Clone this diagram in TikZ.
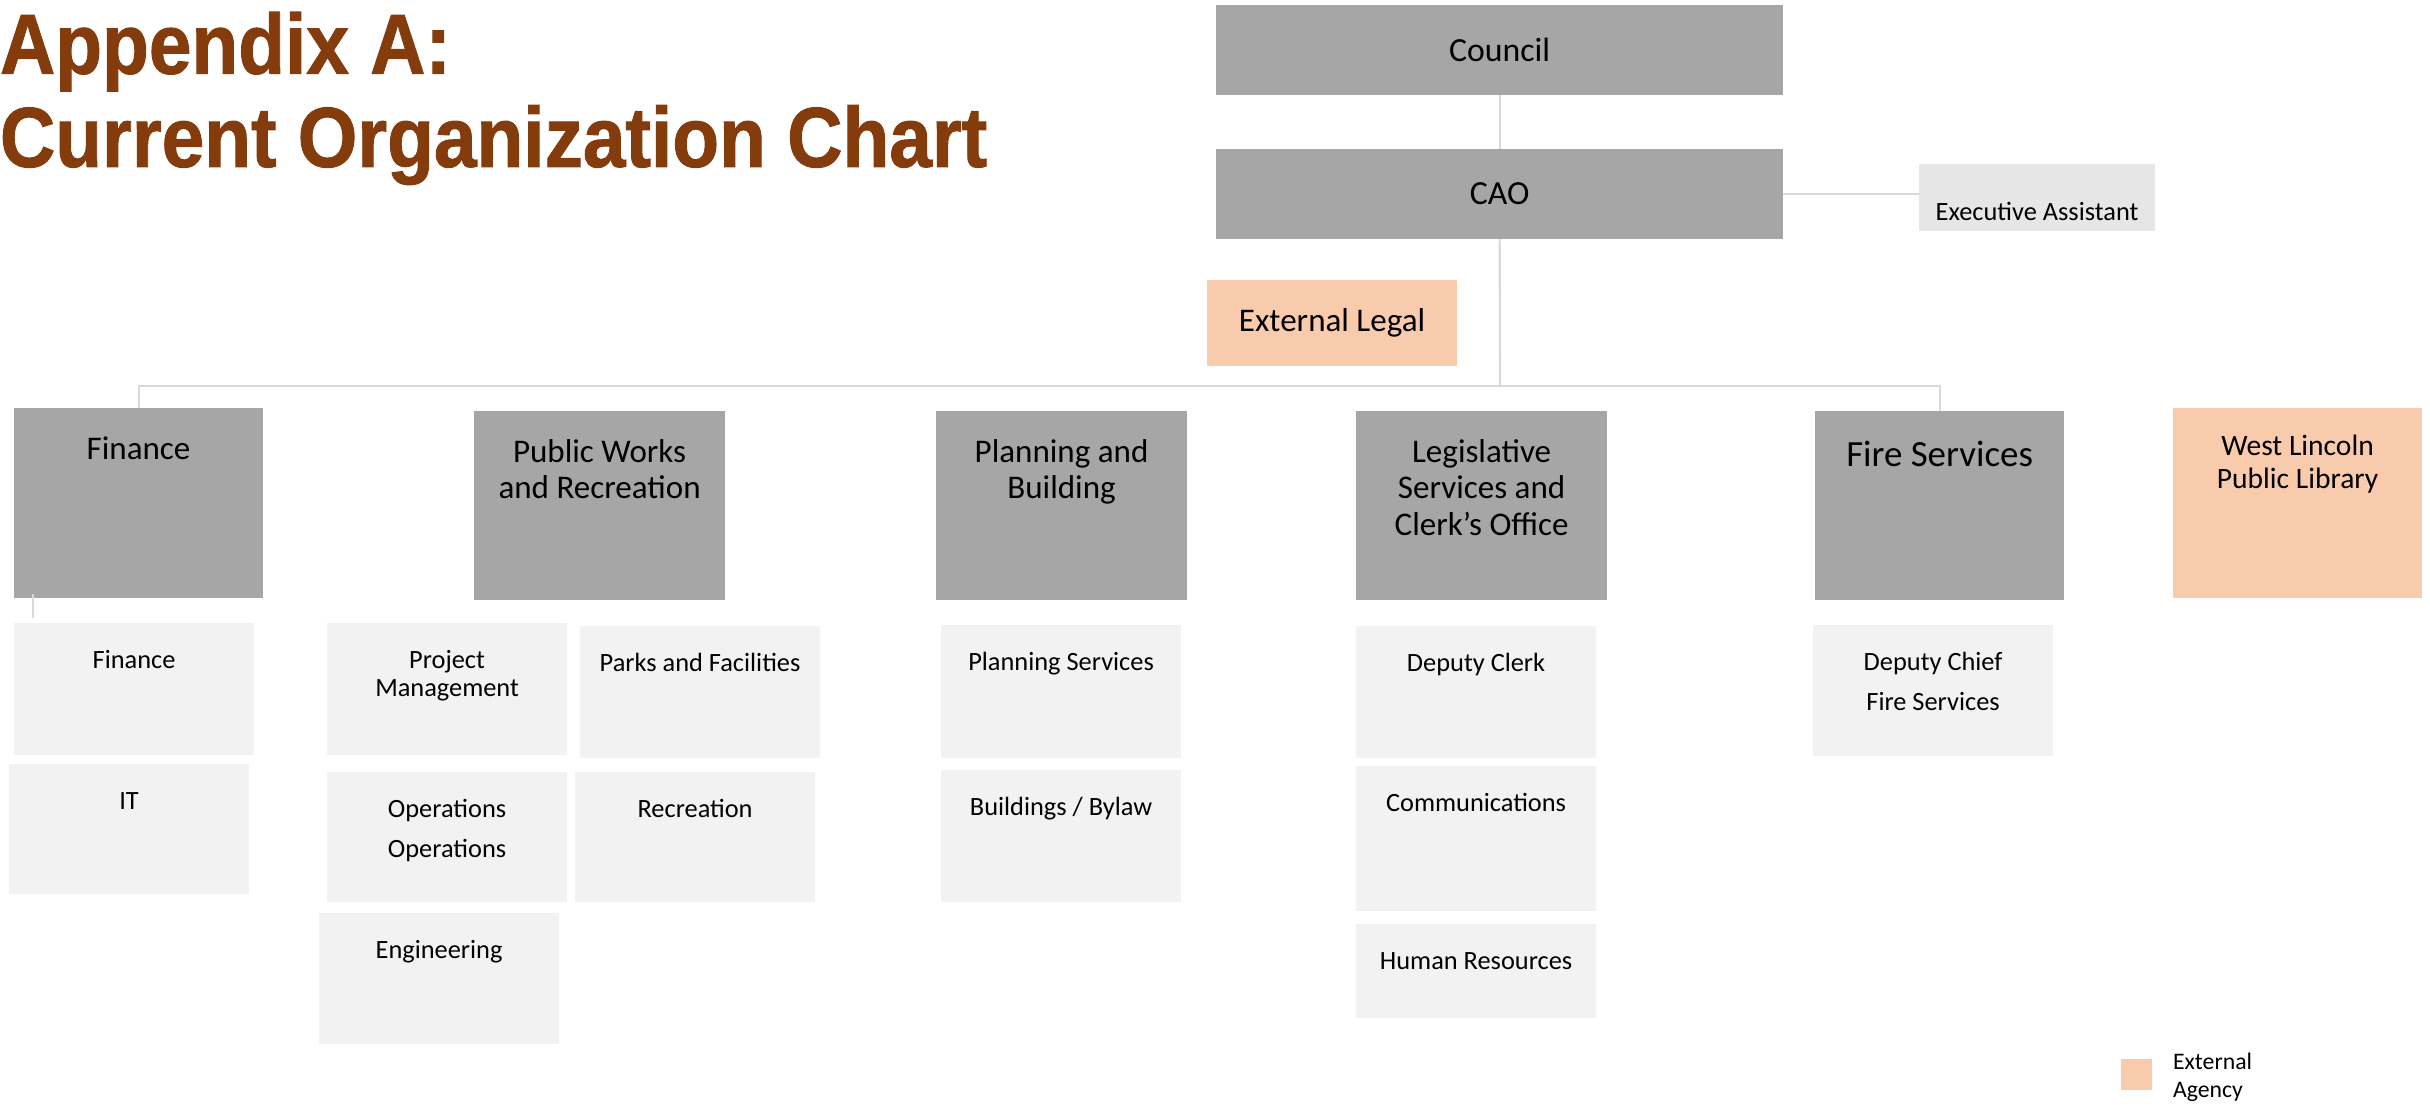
\documentclass[tikz,border=0pt]{standalone}
\usepackage{fontspec}
\setmainfont{Carlito}
\newfontfamily\titlefont{Liberation Sans Bold}[FakeBold=1.2]
\usetikzlibrary{positioning}
\definecolor{deptgray}{HTML}{A6A6A6}
\definecolor{unitgray}{HTML}{F2F2F2}
\definecolor{assistgray}{HTML}{E6E6E6}
\definecolor{peach}{HTML}{F8CBAD}
\definecolor{linegray}{HTML}{D9D9D9}
\definecolor{titlebrown}{HTML}{843C0C}
% box text set from the top: width, height, baseline, text
\newcommand{\boxtxt}[4]{\parbox[c][#2][t]{#1}{\centering\rule{0pt}{#3}#4\par}}
\newcommand{\unittxt}[2]{\boxtxt{2.4cm}{#1}{0.45cm}{#2}}

\begin{document}
\begin{tikzpicture}[
  x=0.01cm, y=-0.01cm,
  box/.style={anchor=north west,inner sep=0pt,outer sep=0pt},
  headbox/.style={box,fill=deptgray,minimum width=5.67cm,minimum height=0.9cm,font=\fontsize{9.6}{11}\selectfont},
  dept/.style={box,fill=deptgray,font=\fontsize{9.4}{10.5}\selectfont},
  unit/.style={box,fill=unitgray,font=\fontsize{7.5}{8}\selectfont},
  ext/.style={box,fill=peach},
  link/.style={draw=linegray,line width=0.6pt}
]
\useasboundingbox (0,0) rectangle (2430,1105);

\node[box,text=titlebrown,align=left,xscale=0.9,transform shape,
  font=\titlefont\fontsize{24.2}{26.5}\selectfont] (title) at (0,12)
  {Appendix A:\\Current Organization Chart};

% top of the chart
\node[headbox] (council) at (1216,5) {Council};
\node[headbox] (cao) at (1216,149) {CAO};
\node[box,fill=assistgray,font=\fontsize{7.5}{8}\selectfont] (assist) at (1919,164)
  {\boxtxt{2.36cm}{0.67cm}{0.56cm}{Executive Assistant}};
\node[ext,minimum width=2.5cm,minimum height=0.86cm,font=\fontsize{9.4}{10.5}\selectfont] (legal) at (1207,280) {External Legal};

% departments
\node[dept] (fin) at (14,408) {\boxtxt{2.49cm}{1.9cm}{0.51cm}{Finance}};
\node[dept] (pwr) at (474,411) {\boxtxt{2.51cm}{1.89cm}{0.51cm}{Public Works\\and Recreation}};
\node[dept] (plan) at (936,411) {\boxtxt{2.51cm}{1.89cm}{0.51cm}{Planning and\\Building}};
\node[dept] (leg) at (1356,411) {\boxtxt{2.51cm}{1.89cm}{0.51cm}{Legislative\\Services and\\Clerk’s Office}};
\node[dept,font=\fontsize{10.5}{12}\selectfont] (fire) at (1815,411) {\boxtxt{2.49cm}{1.89cm}{0.55cm}{Fire Services}};
\node[ext,font=\fontsize{8.4}{9.4}\selectfont] (lib) at (2173,408) {\boxtxt{2.49cm}{1.9cm}{0.47cm}{West Lincoln\\Public Library}};

% units
\node[unit] (finu) at (14,623) {\unittxt{1.32cm}{Finance}};
\node[unit] (it) at (9,764) {\unittxt{1.30cm}{IT}};
\node[unit] (pm) at (327,623) {\unittxt{1.32cm}{Project\\Management}};
\node[unit] (parks) at (580,626) {\unittxt{1.32cm}{Parks and Facilities}};
\node[unit,below=0.17cm of pm] (ops) {\unittxt{1.30cm}{Operations\\[0.12cm]Operations}};
\node[unit] (rec) at (575,772) {\unittxt{1.30cm}{Recreation}};
\node[unit] (eng) at (319,913) {\unittxt{1.31cm}{Engineering}};
\node[unit] (plans) at (941,625) {\unittxt{1.33cm}{Planning Services}};
\node[unit,below=0.12cm of plans] (build) {\unittxt{1.32cm}{Buildings / Bylaw}};
\node[unit] (dclerk) at (1356,626) {\unittxt{1.32cm}{Deputy Clerk}};
\node[unit,below=0.08cm of dclerk] (comm) {\unittxt{1.45cm}{Communications}};
\node[unit,below=0.13cm of comm] (hr) {\unittxt{0.94cm}{Human Resources}};
\node[unit] (dchief) at (1813,625) {\unittxt{1.31cm}{Deputy Chief\\[0.12cm]Fire Services}};

% legend
\node[ext,minimum width=0.31cm,minimum height=0.31cm] (legend) at (2121,1059) {};
\node[box,align=left,font=\fontsize{6.75}{8}\selectfont] (legendtxt) at ([xshift=0.21cm,yshift=0.07cm]legend.north east)
  {\rule{0pt}{0.17cm}External\\Agency};

% lines
\coordinate (bus) at (1500,386);
\path (council) edge[link] (cao)
(cao.east) edge[link] (cao.east -| assist.west);
\draw[link] (cao.south) -- (bus);
\draw[link] (fin.north) |- (bus) -| (fire.north);
\draw[link] ([xshift=0.19cm,yshift=0.04cm]fin.south west) -- ([xshift=0.19cm,yshift=0.05cm]finu.north west);
\end{tikzpicture}
\end{document}
